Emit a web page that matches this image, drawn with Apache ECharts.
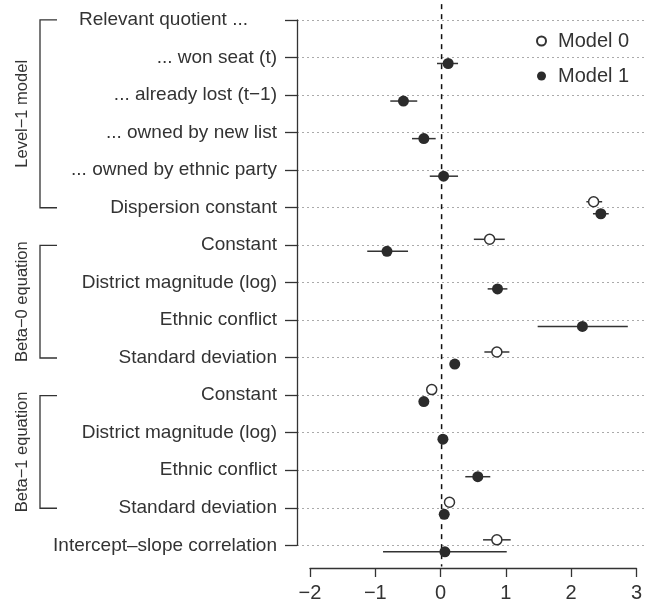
<!DOCTYPE html>
<html>
<head>
<meta charset="utf-8">
<script src="https://cdn.jsdelivr.net/npm/echarts@6/dist/echarts.min.js"></script>
<style>
  html, body { margin: 0; padding: 0; background: #fff; }
  #main { width: 645px; height: 604px; }
</style>
</head>
<body>
<div id="main"></div>
<script>
// row labels, top to bottom
const rowLabels = [
  'Relevant quotient ...',
  '... won seat (t)',
  '... already lost (t\u22121)',
  '... owned by new list',
  '... owned by ethnic party',
  'Dispersion constant',
  'Constant',
  'District magnitude (log)',
  'Ethnic conflict',
  'Standard deviation',
  'Constant',
  'District magnitude (log)',
  'Ethnic conflict',
  'Standard deviation',
  'Intercept\u2013slope correlation'
];

// Model 0 (open): estimate, lower, upper per row (null = not shown)
const m0Est = [null, null, null, null, null, 2.31, 0.73, null, null, 0.84, -0.15, null, null, 0.12, 0.84];
const m0Lo  = [null, null, null, null, null, 2.20, 0.49, null, null, 0.65, -0.15, null, null, 0.12, 0.63];
const m0Hi  = [null, null, null, null, null, 2.44, 0.96, null, null, 1.03, -0.15, null, null, 0.12, 1.05];

// Model 1 (filled)
const m1Est = [null, 0.10, -0.58, -0.27, 0.03, 2.42, -0.83, 0.85, 2.14, 0.20, -0.27, 0.02, 0.55, 0.04, 0.05];
const m1Lo  = [null, -0.07, -0.78, -0.45, -0.18, 2.30, -1.13, 0.70, 1.46, 0.20, -0.27, 0.02, 0.36, 0.04, -0.89];
const m1Hi  = [null, 0.25, -0.37, -0.09, 0.25, 2.54, -0.51, 1.00, 2.83, 0.20, -0.27, 0.02, 0.74, 0.04, 0.99];

const xTicks = [-2, -1, 0, 1, 2, 3];

// bracket groups on the left
const groupNames = ['Level\u22121 model', 'Beta\u22120 equation', 'Beta\u22121 equation'];
const groupFrom = [0, 6, 10];
const groupTo   = [5, 9, 13];

const INK = '#333';
const FONT = "'Liberation Sans', Arial, Helvetica, sans-serif";
const OFF = 0.16; // vertical dodge between models

function points(est, off) {
  const out = [];
  est.forEach((v, i) => { if (v !== null) out.push([v, i + off]); });
  return out;
}
function bars(est, lo, hi, off) {
  const out = [];
  est.forEach((v, i) => { if (v !== null && hi[i] > lo[i]) out.push([lo[i], hi[i], i + off]); });
  return out;
}

function errRender(params, api) {
  const a = api.coord([api.value(0), api.value(2)]);
  const b = api.coord([api.value(1), api.value(2)]);
  return {
    type: 'line',
    shape: { x1: a[0], y1: a[1], x2: b[0], y2: b[1] },
    style: { stroke: INK, lineWidth: 1.5 }
  };
}

const chart = echarts.init(document.getElementById('main'));

const xMin = -2 - 13 / 65.8, xMax = 3 + 6 / 65.8;

chart.setOption({
  animation: false,
  textStyle: { fontFamily: FONT, color: INK },
  grid: [
    // y axis, labels and dotted row lines
    { left: 297, right: 0, top: 19.9, height: 525.4 },
    // data region
    { left: 297, right: 0, top: 0, height: 566.5 },
    // x axis
    { left: 310, width: 329, top: 0, height: 568 }
  ],
  xAxis: [
    { gridIndex: 0, type: 'value', min: xMin, max: xMax, show: false },
    { gridIndex: 1, type: 'value', min: xMin, max: xMax, show: false },
    {
      gridIndex: 2, type: 'value', min: xTicks[0], max: xTicks[xTicks.length - 1], interval: 1,
      axisLine: { show: true, onZero: false, lineStyle: { color: INK, width: 1.3 } },
      axisTick: { show: true, length: 9, lineStyle: { color: INK, width: 1.3 } },
      axisLabel: { fontSize: 20, color: INK, margin: 15, formatter: v => String(v).replace('-', '\u2212') },
      splitLine: { show: false }
    }
  ],
  yAxis: [
    {
      gridIndex: 0, type: 'value', inverse: true, min: 0, max: rowLabels.length - 1, interval: 1,
      axisLine: { show: true, onZero: false, lineStyle: { color: INK, width: 1.3 } },
      axisTick: { show: true, length: 12, lineStyle: { color: INK, width: 1.3 } },
      axisLabel: {
        fontSize: 19, color: INK, margin: 20,
        formatter: v => v === 0 ? '{q|' + rowLabels[0] + '}' : rowLabels[v],
        rich: { q: { fontSize: 19, color: INK, padding: [0, 29, 0, 0] } }
      },
      splitLine: { show: true, lineStyle: { color: '#aaa', type: [2, 3], width: 1 } }
    },
    { gridIndex: 1, type: 'value', inverse: true, min: -0.53, max: 14.55, show: false },
    { gridIndex: 2, type: 'value', show: false, min: 0, max: 1 }
  ],
  legend: {
    data: ['Model 0', 'Model 1'],
    orient: 'vertical',
    left: 531, top: 26,
    itemWidth: 9, itemHeight: 9, itemGap: 15,
    textStyle: { fontSize: 20, color: INK, fontFamily: FONT, padding: [0, 0, 0, 7] }
  },
  series: [
    {
      type: 'line', xAxisIndex: 1, yAxisIndex: 1, silent: true,
      data: [[0, -0.42], [0, 14.55]], symbol: 'none',
      lineStyle: { color: '#111', width: 1.5, type: [5, 5] }, z: 1
    },
    {
      type: 'custom', xAxisIndex: 1, yAxisIndex: 1, clip: false,
      renderItem: errRender, data: bars(m0Est, m0Lo, m0Hi, -OFF), z: 2
    },
    {
      type: 'custom', xAxisIndex: 1, yAxisIndex: 1, clip: false,
      renderItem: errRender, data: bars(m1Est, m1Lo, m1Hi, OFF), z: 2
    },
    {
      name: 'Model 0', type: 'scatter', xAxisIndex: 1, yAxisIndex: 1, clip: false,
      symbol: 'circle', symbolSize: 10,
      itemStyle: { color: '#fff', borderColor: INK, borderWidth: 1.5, opacity: 1 },
      data: points(m0Est, -OFF), z: 3
    },
    {
      name: 'Model 1', type: 'scatter', xAxisIndex: 1, yAxisIndex: 1, clip: false,
      symbol: 'circle', symbolSize: 11,
      itemStyle: { color: '#2b2b2b', opacity: 1 },
      data: points(m1Est, OFF), z: 3
    },
    {
      type: 'custom', xAxisIndex: 1, yAxisIndex: 1, clip: false, silent: true,
      data: groupFrom.map((f, i) => [0, f, groupTo[i]]),
      renderItem: function (params, api) {
        const y0 = api.coord([0, api.value(1)])[1];
        const y1 = api.coord([0, api.value(2)])[1];
        return {
          type: 'group',
          children: [
            {
              type: 'polyline',
              shape: { points: [[57, y0], [40, y0], [40, y1], [57, y1]] },
              style: { stroke: INK, lineWidth: 1.3, fill: null }
            },
            {
              type: 'text', x: 22, y: (y0 + y1) / 2, rotation: Math.PI / 2,
              style: {
                text: groupNames[params.dataIndex], fill: INK, fontSize: 16.5,
                fontFamily: FONT, align: 'center', verticalAlign: 'middle'
              }
            }
          ]
        };
      }
    }
  ]
});
</script>
</body>
</html>
